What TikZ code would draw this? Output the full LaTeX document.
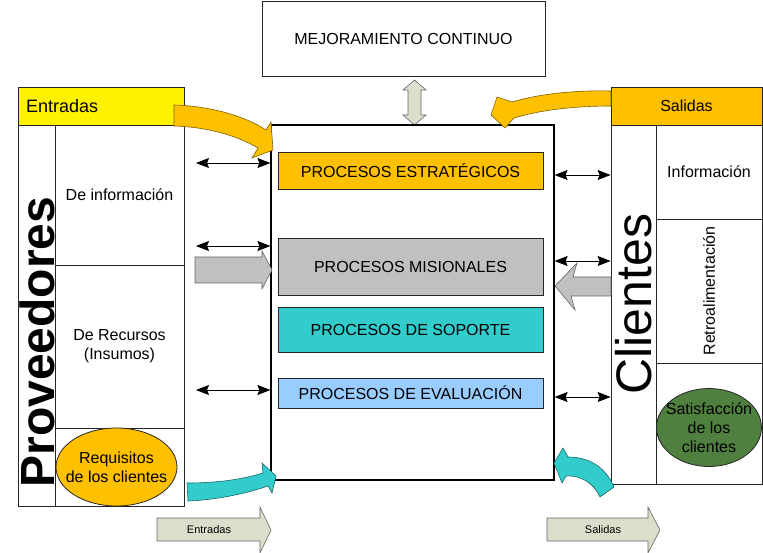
\documentclass[tikz,border=0pt]{standalone}
\usepackage{fontspec}
\setmainfont{Liberation Sans}
\usetikzlibrary{positioning, arrows.meta, shapes.geometric, calc}

\definecolor{goldfill}{HTML}{FFC000}
\definecolor{goldline}{HTML}{7F6000}
\definecolor{tealfill}{HTML}{33CCCC}
\definecolor{tealline}{HTML}{1A6666}
\definecolor{bluefill}{HTML}{99CCFF}
\definecolor{grayfill}{HTML}{C0C0C0}
\definecolor{beigefill}{HTML}{DDDDCC}
\definecolor{greenfill}{HTML}{50803F}

\tikzset{
    box/.style={draw=black!85, line width=0.8pt, rectangle, inner sep=0pt, align=center, font=\fontsize{16}{19}\selectfont},
    proc/.style={box, minimum width=265pt},
    oval/.style={ellipse, draw=black!85, line width=0.8pt, inner sep=0pt},
    biarrow/.style={{Stealth[length=13pt,width=10pt,inset=2pt]}-{Stealth[length=13pt,width=10pt,inset=2pt]}, line width=0.7pt},
    blockarrow/.style={draw=black!60, line width=0.6pt, line join=miter},
}

\begin{document}
\begin{tikzpicture}[x=1pt, y=-1pt]
    \useasboundingbox (0,0) rectangle (763,553);

    % Mejoramiento continuo
    \node[box, minimum width=283pt, minimum height=75pt] (mejora) at (403.5,38.5) {MEJORAMIENTO CONTINUO};
    \fill[beigefill, blockarrow] (414.5,80) -- (426,90) -- (421,90) -- (421,115) -- (426,115) -- (414.5,125)
        -- (403,115) -- (408,115) -- (408,90) -- (403,90) -- cycle;

    % Central box with the processes
    \node[box, line width=1.2pt, draw=black, minimum width=283pt, minimum height=355pt] (main) at (412.5,302.5) {};
    \node[proc, fill=goldfill, minimum height=37pt] (estr) at (410.5,170.5) {PROCESOS ESTRATÉGICOS};
    \node[proc, fill=grayfill, minimum height=57pt] (misi) at (410.5,266.5) {PROCESOS MISIONALES};
    \node[proc, fill=tealfill, minimum height=45pt] (sop) at (410.5,329.5) {PROCESOS DE SOPORTE};
    \node[proc, fill=bluefill, minimum height=30pt] (eval) at (410.5,393) {PROCESOS DE EVALUACIÓN};

    % Proveedores
    \node[box, fill=yellow, minimum width=166pt, minimum height=38pt, text width=150pt, align=left,
        font=\fontsize{18}{21}\selectfont] (entr) at (101,106) {Entradas};
    \node[box, minimum width=37pt, minimum height=381pt] (provcol) at (36.5,315.5) {};
    \node[rotate=90, inner sep=0pt, font=\fontsize{48}{56}\bfseries] (provtxt) at (37,342) {Proveedores};
    \node[box, minimum width=129pt, minimum height=140pt] (info) at (119.5,195) {De información};
    \node[box, minimum width=129pt, minimum height=163pt] (recur) at (119.5,346.5) {De Recursos\\(Insumos)};
    \node[box, minimum width=129pt, minimum height=78pt] (reqcell) at (119.5,467) {};
    \node[oval, fill=goldfill, minimum width=121pt, minimum height=78pt,
        label={[align=center, font=\fontsize{16}{19}\selectfont]center:Requisitos\\de los clientes}] (req) at (116.5,467) {};

    % Clientes
    \node[box, fill=goldfill, minimum width=151pt, minimum height=38pt] (sal) at (686.5,106) {Salidas};
    \node[box, minimum width=45pt, minimum height=359pt] (clicol) at (633.5,304.5) {};
    \node[rotate=90, inner sep=0pt, font=\fontsize{50}{58}\selectfont] (clitxt) at (633.5,304) {Clientes};
    \node[box, minimum width=106pt, minimum height=94pt] (infor) at (709,172) {Información};
    \node[box, minimum width=106pt, minimum height=144pt] (retro) at (709,291) {};
    \node[rotate=90, inner sep=0pt, font=\fontsize{16}{19}\selectfont] (retrotxt) at (709,291) {Retroalimentación};
    \node[box, minimum width=106pt, minimum height=121pt] (satcell) at (709,423.5) {};
    \node[oval, fill=greenfill, minimum width=105pt, minimum height=78pt,
        label={[align=center, font=\fontsize{16}{19}\selectfont]center:Satisfacción\\de los\\clientes}] (sat) at (709,427.5) {};

    % Gray block arrows
    \fill[grayfill, blockarrow] (195,257) -- (262,257) -- (262,251) -- (272,270) -- (262,289) -- (262,283) -- (195,283) -- cycle;
    \fill[grayfill, blockarrow] (611,277) -- (573,277) -- (577,263) -- (555,286) -- (575,310) -- (571,296) -- (611,296) -- cycle;

    % Thin two-way arrows
    \foreach \name/\y in {l1/163, l2/246, l3/390} {
        \coordinate (\name) at (196,\y);
        \draw[biarrow] (\name) -- (main.west |- \name);
    }
    \foreach \name/\y in {r1/175, r2/261, r3/397} {
        \coordinate (\name) at (555,\y);
        \draw[biarrow] (main.east |- \name) -- (clicol.west |- \name);
    }

    % Curved arrows
    \fill[goldfill, draw=goldline, line width=0.6pt] (174,105) .. controls (210,106) and (245,116) .. (266,130) -- (271,122)
        -- (273,150) -- (252,158) -- (258,148) .. controls (238,136) and (208,127) .. (174,126) -- cycle;
    \fill[goldfill, draw=goldline, line width=0.6pt] (611,91) .. controls (570,90) and (535,95) .. (512,102) -- (497,97)
        -- (491,115) -- (505,128) -- (514,118) .. controls (540,110) and (575,106) .. (611,106) -- cycle;
    \fill[tealfill, draw=tealline, line width=0.6pt] (187,483) .. controls (215,483) and (240,480) .. (263,473) -- (262,463)
        -- (276,476) -- (272,493) -- (268,486) .. controls (245,494) and (215,500) .. (188,501) -- cycle;
    \fill[tealfill, draw=tealline, line width=0.6pt] (614,487) .. controls (605,466) and (588,457) .. (568,457) -- (563,448)
        -- (554,463) -- (562,483) -- (566,476) .. controls (582,475) and (594,484) .. (600,497) -- cycle;

    % Bottom block arrows
    \fill[beigefill, blockarrow] (157,518) -- (260,518) -- (260,507) -- (271,530) -- (260,553) -- (260,541) -- (157,541) -- cycle;
    \node[font=\fontsize{11}{13}\selectfont] (entbot) at (209,529.5) {Entradas};
    \fill[beigefill, blockarrow] (547,518) -- (648,518) -- (648,507) -- (660,530) -- (648,553) -- (648,541) -- (547,541) -- cycle;
    \node[font=\fontsize{11}{13}\selectfont] (salbot) at (603,529.5) {Salidas};
\end{tikzpicture}
\end{document}
